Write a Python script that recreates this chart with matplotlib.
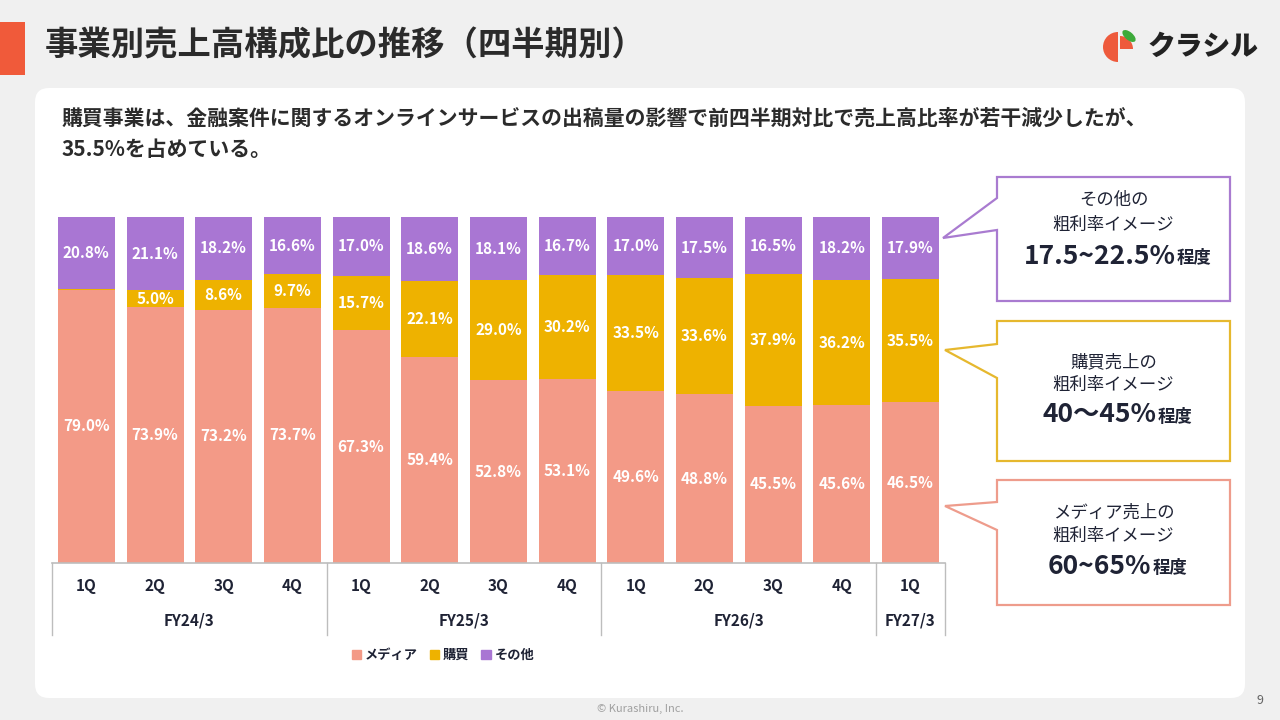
import matplotlib
matplotlib.use("Agg")
import matplotlib.pyplot as plt
from matplotlib.patches import Rectangle, FancyBboxPatch, Polygon, Wedge, Ellipse, Patch
from matplotlib import transforms

plt.rcParams['font.family'] = ['Noto Sans CJK JP', 'DejaVu Sans']

# ---------------- data ----------------
quarters = ["1Q", "2Q", "3Q", "4Q", "1Q", "2Q", "3Q", "4Q", "1Q", "2Q", "3Q", "4Q", "1Q"]
fiscal_years = ["FY24/3", "FY25/3", "FY26/3", "FY27/3"]
fy_counts = [4, 4, 4, 1]
media = [79.0, 73.9, 73.2, 73.7, 67.3, 59.4, 52.8, 53.1, 49.6, 48.8, 45.5, 45.6, 46.5]
purchase = [0.2, 5.0, 8.6, 9.7, 15.7, 22.1, 29.0, 30.2, 33.5, 33.6, 37.9, 36.2, 35.5]
other = [20.8, 21.1, 18.2, 16.6, 17.0, 18.6, 18.1, 16.7, 17.0, 17.5, 16.5, 18.2, 17.9]
series_names = ["メディア", "購買", "その他"]

C_MEDIA = "#F39A87"
C_PURCH = "#EEB200"
C_OTHER = "#A976D3"
C_TEXT = "#1F2335"
C_BG = "#F0F0F0"

W, H = 1280, 720
fig = plt.figure(figsize=(12.8, 7.2), dpi=100)
fig.patch.set_facecolor(C_BG)

# overlay axes in pixel coordinates
ov = fig.add_axes([0, 0, 1, 1])
ov.set_xlim(0, W)
ov.set_ylim(H, 0)
ov.axis("off")

# accent bar + title
ov.add_patch(Rectangle((0, 22), 25, 53, color="#F05A3A", lw=0))
ov.text(45, 46, "事業別売上高構成比の推移（四半期別）", fontsize=24, fontweight="bold",
        color="#2B2B2B", va="center", ha="left")

# logo
ov.add_patch(Wedge((1118, 47), 15, 90, 270, color="#EE5A3C", lw=0))
ov.add_patch(Wedge((1120, 49), 13, 270, 360, color="#EE5A3C", lw=0))
ov.add_patch(Ellipse((1129, 36), 16, 8, angle=40, color="#3DAA3A", lw=0))
ov.text(1148, 47, "クラシル", fontsize=20, fontweight="black", color="#222222",
        va="center", ha="left", style="italic")

# white panel
ov.add_patch(FancyBboxPatch((35, 88), 1210, 610, boxstyle="round,pad=0,rounding_size=14",
                            fc="white", ec="none"))

# subtitle
ov.text(62, 118, "購買事業は、金融案件に関するオンラインサービスの出稿量の影響で前四半期対比で売上高比率が若干減少したが、",
        fontsize=15, fontweight="bold", color="#2B2B2B", va="center", ha="left")
ov.text(62, 150, "35.5%を占めている。", fontsize=15, fontweight="bold", color="#2B2B2B",
        va="center", ha="left")

# callouts
callouts = [
    (177, 301, 198, 238, 230, 943, "#A97BD0", ["その他の", "粗利率イメージ"], "17.5~22.5%", [200, 225, 256]),
    (321, 461, 344, 350, 378, 945, "#E6B82E", ["購買売上の", "粗利率イメージ"], "40〜45%", [362, 385, 415]),
    (480, 605, 502, 506, 530, 945, "#EE9C8C", ["メディア売上の", "粗利率イメージ"], "60~65%", [513, 536, 566]),
]
bx0, bx1 = 997, 1230
for (y0, y1, p0, ptip, p1, xtip, col, lines, big, ys) in callouts:
    pts = [(bx0, y0), (bx1, y0), (bx1, y1), (bx0, y1), (bx0, p1), (xtip, ptip), (bx0, p0)]
    ov.add_patch(Polygon(pts, closed=True, fc="white", ec=col, lw=1.6, joinstyle="miter"))
    cx = (bx0 + bx1) / 2
    ov.text(cx, ys[0], lines[0], fontsize=12.5, color=C_TEXT, ha="center", va="center")
    ov.text(cx, ys[1], lines[1], fontsize=12.5, color=C_TEXT, ha="center", va="center")
    t = ov.text(cx, ys[2], big, fontsize=19, fontweight="bold", color=C_TEXT,
                ha="center", va="center")
    fig.canvas.draw()
    bb = t.get_window_extent()
    tw = bb.width
    sw = 28
    total = tw + sw
    t.set_x(cx - total / 2 + tw / 2)
    ov.text(cx - total / 2 + tw + 1, ys[2] + 2, "程度", fontsize=12.5, fontweight="bold",
            color=C_TEXT, ha="left", va="center")

# footer
ov.text(640, 709, "© Kurashiru, Inc.", fontsize=8, color="#A0A0A0", ha="center", va="center")
ov.text(1260, 700, "9", fontsize=9, color="#666666", ha="center", va="center")

# ---------------- chart ----------------
ax_l, ax_r, ax_t, ax_b = 52, 944.7, 217, 563
ax = fig.add_axes([ax_l / W, 1 - ax_b / H, (ax_r - ax_l) / W, (ax_b - ax_t) / H])
ax.set_facecolor("none")
n = len(quarters)
x = list(range(n))
bw = 0.83
ax.bar(x, media, width=bw, color=C_MEDIA, lw=0)
bottom2 = [m for m in media]
ax.bar(x, purchase, width=bw, bottom=bottom2, color=C_PURCH, lw=0)
bottom3 = [m + p for m, p in zip(media, purchase)]
ax.bar(x, other, width=bw, bottom=bottom3, color=C_OTHER, lw=0)
ax.set_xlim(-0.5, n - 0.5)
ax.set_ylim(0, 100)
ax.axis("off")

for i in range(n):
    segs = [(0, media[i]), (media[i], purchase[i]), (media[i] + purchase[i], other[i])]
    for b, v in segs:
        if v >= 1:
            ax.text(i, b + v / 2, f"{v:.1f}%", color="white", fontsize=11, fontweight="bold",
                    ha="center", va="center")

# category axis (grouped)
trans = transforms.blended_transform_factory(ax.transData, ax.transAxes)
axh = ax_b - ax_t
def fy(px):
    return -(px - ax_b) / axh

gray = "#BDBDBD"
ax.plot([-0.5, n - 0.5], [0, 0], transform=trans, color=gray, lw=1.2, clip_on=False)
bounds = [-0.5]
for c in fy_counts:
    bounds.append(bounds[-1] + c)
for bnd in bounds:
    ax.plot([bnd, bnd], [0, fy(635)], transform=trans, color=gray, lw=1.0, clip_on=False)
for i, q in enumerate(quarters):
    ax.text(i, fy(586), q, transform=trans, fontsize=11, fontweight="bold", color=C_TEXT,
            ha="center", va="center")
for k, name in enumerate(fiscal_years):
    mid = (bounds[k] + bounds[k + 1]) / 2
    ax.text(mid, fy(621), name, transform=trans, fontsize=11, fontweight="bold", color=C_TEXT,
            ha="center", va="center")

# legend
handles = [Patch(color=c, label=s) for c, s in zip([C_MEDIA, C_PURCH, C_OTHER], series_names)]
fig.legend(handles=handles, loc="center", bbox_to_anchor=(443 / W, 1 - 655 / H), ncol=3,
           frameon=False, handlelength=0.7, handleheight=0.7, handletextpad=0.3,
           columnspacing=0.9, prop={"size": 9.5, "weight": "bold"}, labelcolor=C_TEXT)

fig.savefig("out.png", dpi=100, facecolor=C_BG)
